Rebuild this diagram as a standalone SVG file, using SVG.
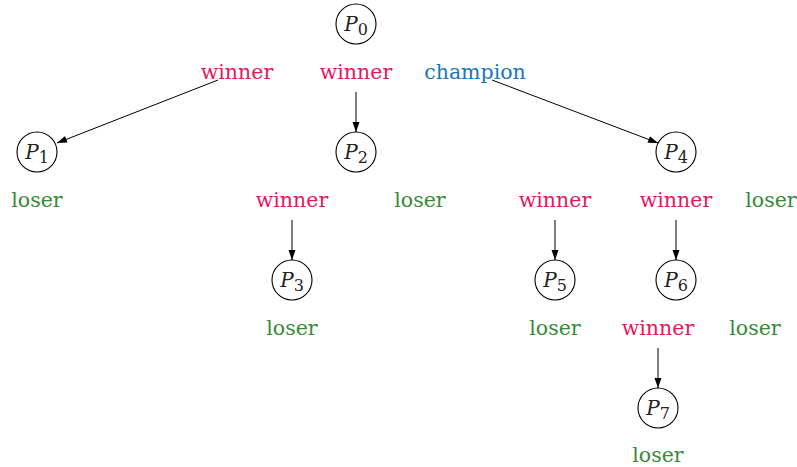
<svg xmlns="http://www.w3.org/2000/svg" width="797" height="467" viewBox="0 0 797 467">
<style>
.n circle{fill:#fff;stroke:#000;stroke-width:1.1}
.n text{font-family:"DejaVu Serif",serif;font-style:italic;font-size:20px;fill:#222;text-anchor:middle}
.n tspan.s{font-style:normal;font-size:16px}
.t{font-family:"DejaVu Serif",serif;font-size:20.5px;text-anchor:middle}
.w{fill:#E5185D}.l{fill:#3A8A3A}.c{fill:#1D76BA}
.e line{stroke:#000;stroke-width:1;marker-end:url(#a)}
</style>
<defs>
<marker id="a" viewBox="0 0 10 10" refX="10" refY="5" markerWidth="10" markerHeight="10" markerUnits="userSpaceOnUse" orient="auto">
<path d="M0,1.5 L10,5 L0,8.5 z" fill="#000"/>
</marker>
</defs>
<g id="edges" class="e">
<line x1="218" y1="80" x2="57" y2="143"/>
<line x1="356" y1="92" x2="356" y2="132"/>
<line x1="492" y1="80" x2="658" y2="143"/>
<line x1="292" y1="220" x2="292" y2="260"/>
<line x1="555" y1="220" x2="555" y2="260"/>
<line x1="676" y1="220" x2="676" y2="260"/>
<line x1="658" y1="348" x2="658" y2="388"/>
</g>
<g id="P0" class="n"><circle cx="356" cy="24" r="20"/><text x="356" y="31">P<tspan class="s" dy="4">0</tspan></text></g>
<g id="P1" class="n"><circle cx="37" cy="152" r="20"/><text x="37" y="159">P<tspan class="s" dy="4">1</tspan></text></g>
<g id="P2" class="n"><circle cx="356" cy="152" r="20"/><text x="356" y="159">P<tspan class="s" dy="4">2</tspan></text></g>
<g id="P3" class="n"><circle cx="292" cy="280" r="20"/><text x="292" y="287">P<tspan class="s" dy="4">3</tspan></text></g>
<g id="P4" class="n"><circle cx="676" cy="152" r="20"/><text x="676" y="159">P<tspan class="s" dy="4">4</tspan></text></g>
<g id="P5" class="n"><circle cx="555" cy="280" r="20"/><text x="555" y="287">P<tspan class="s" dy="4">5</tspan></text></g>
<g id="P6" class="n"><circle cx="676" cy="280" r="20"/><text x="676" y="287">P<tspan class="s" dy="4">6</tspan></text></g>
<g id="P7" class="n"><circle cx="658" cy="408" r="20"/><text x="658" y="415">P<tspan class="s" dy="4">7</tspan></text></g>
<g id="labels">
<text class="t w" x="237" y="79">winner</text>
<text class="t w" x="356" y="79">winner</text>
<text class="t c" x="475" y="79">champion</text>
<text class="t l" x="37" y="207">loser</text>
<text class="t w" x="292" y="207">winner</text>
<text class="t l" x="420" y="207">loser</text>
<text class="t w" x="555" y="207">winner</text>
<text class="t w" x="676" y="207">winner</text>
<text class="t l" x="771" y="207">loser</text>
<text class="t l" x="292" y="335">loser</text>
<text class="t l" x="555" y="335">loser</text>
<text class="t w" x="658" y="335">winner</text>
<text class="t l" x="755" y="335">loser</text>
<text class="t l" x="658" y="462">loser</text>
</g>
</svg>
